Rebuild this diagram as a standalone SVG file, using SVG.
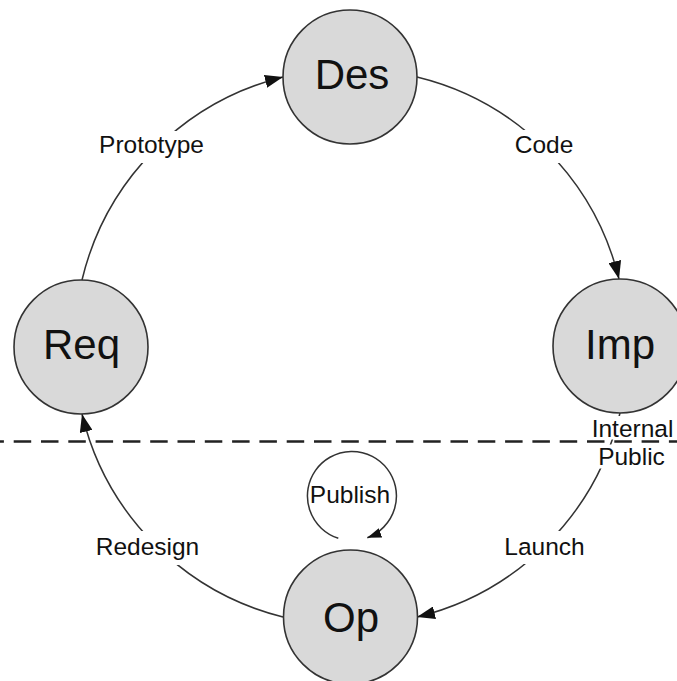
<svg xmlns="http://www.w3.org/2000/svg" width="677" height="681" viewBox="0 0 677 681">
  <style>
    .node circle { fill: #d9d9d9; stroke: #333; stroke-width: 1.6; }
    .node text { font-family: "Liberation Sans", Arial, sans-serif; font-size: 42px; fill: #111; text-anchor: middle; }
    .edge { fill: none; stroke: #333; stroke-width: 1.5; }
    .label { font-family: "Liberation Sans", Arial, sans-serif; font-size: 24.5px; fill: #111; text-anchor: middle; }
    .halo { fill: #fff; }
    .boundary { stroke: #222; stroke-width: 2.6; stroke-dasharray: 17.5 9.8; stroke-dashoffset: 13.6; }
  </style>
  <defs>
    <marker id="arrow" markerUnits="userSpaceOnUse" viewBox="0 0 18 13" refX="18" refY="6.5" markerWidth="18" markerHeight="13" orient="auto">
      <path d="M0,0 L18,6.5 L0,13 z" fill="#111"/>
    </marker>
    <marker id="arrow-small" markerUnits="userSpaceOnUse" viewBox="0 0 14 10" refX="14" refY="5" markerWidth="14" markerHeight="10" orient="auto">
      <path d="M0,0 L14,5 L0,10 z" fill="#111"/>
    </marker>
  </defs>

  <rect width="677" height="681" fill="#fff"/>

  <!-- connectors around the cycle, plus the self loop on Op -->
  <g id="connectors">
    <path id="e-prototype" class="edge" d="M 82 280 A 275 275 0 0 1 283 77" marker-end="url(#arrow)"/>
    <path id="e-code" class="edge" d="M 417 77 A 275 275 0 0 1 619 279" marker-end="url(#arrow)"/>
    <path id="e-launch" class="edge" d="M 620 413 A 275 275 0 0 1 417 617" marker-end="url(#arrow)"/>
    <path id="e-redesign" class="edge" d="M 283 617 A 275 275 0 0 1 82 414" marker-end="url(#arrow)"/>
    <path id="e-publish" class="edge" d="M 338.3 538.3 A 44.5 44.5 0 1 1 367.3 537.7" marker-end="url(#arrow-small)"/>
  </g>

  <!-- internal / public boundary -->
  <line class="boundary" x1="0" y1="441.5" x2="677" y2="441.5"/>

  <!-- connector labels, each on a white patch that breaks the line -->
  <g id="edge-labels">
    <rect class="halo" x="96" y="131" width="111" height="32"/>
    <text class="label" x="151.5" y="153">Prototype</text>
    <rect class="halo" x="512" y="130" width="64" height="33"/>
    <text class="label" x="544" y="153">Code</text>
    <rect class="halo" x="93" y="531" width="109" height="34"/>
    <text class="label" x="147.5" y="555">Redesign</text>
    <rect class="halo" x="502" y="531" width="85" height="33"/>
    <text class="label" x="544.5" y="555">Launch</text>
    <rect class="halo" x="590" y="416" width="85" height="23.5"/>
    <text class="label" x="632.5" y="437">Internal</text>
    <rect class="halo" x="596" y="444.5" width="71" height="24"/>
    <text class="label" x="631.5" y="465">Public</text>
    <text class="label" x="350" y="503">Publish</text>
  </g>

  <g id="node-des" class="node">
    <circle cx="350" cy="77" r="67"/>
    <text x="352" y="89">Des</text>
  </g>
  <g id="node-imp" class="node">
    <circle cx="620" cy="346" r="67"/>
    <text x="620" y="359">Imp</text>
  </g>
  <g id="node-op" class="node">
    <circle cx="350.5" cy="617" r="67"/>
    <text x="351" y="632">Op</text>
  </g>
  <g id="node-req" class="node">
    <circle cx="81" cy="347" r="67"/>
    <text x="81.5" y="359">Req</text>
  </g>
</svg>
